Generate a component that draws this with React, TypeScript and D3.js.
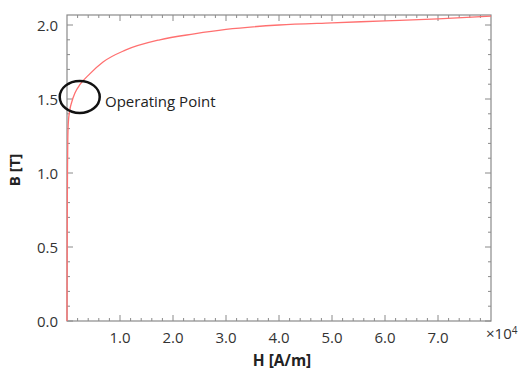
import React from "react";
import * as d3 from "d3";

const H_VALUES = [0, 30, 60, 100, 150, 250, 500, 900, 1500, 2500, 4300, 6800, 11000, 17500, 24000, 30000, 40000, 50000, 60000, 70000, 80000];
const B_VALUES = [0, 0.4, 0.8, 1.05, 1.22, 1.34, 1.42, 1.48, 1.54, 1.6, 1.67, 1.75, 1.83, 1.9, 1.94, 1.97, 2.0, 2.015, 2.028, 2.042, 2.06];
const X_MAJOR = [10000, 20000, 30000, 40000, 50000, 60000, 70000];
const X_LABELS = ["1.0", "2.0", "3.0", "4.0", "5.0", "6.0", "7.0"];
const Y_MAJOR = [0, 0.5, 1.0, 1.5, 2.0];
const Y_LABELS = ["0.0", "0.5", "1.0", "1.5", "2.0"];
const OP_POINT = { h: 2400, b: 1.514, label: "Operating Point" };

const W = 523, HGT = 372;
const L = 67, R = 491, T = 15, B = 321;

export default function App() {
  const x = d3.scaleLinear().domain([0, 80000]).range([L, R]);
  const y = d3.scaleLinear().domain([0, 2.0676]).range([B, T]);
  const data = H_VALUES.map((h, i) => [h, B_VALUES[i]] as [number, number]);
  const line = d3.line<[number, number]>().x(d => x(d[0])).y(d => y(d[1])).curve(d3.curveMonotoneX);
  const xMinor = d3.range(2000, 80000, 2000).filter(v => v % 10000 !== 0);
  const yMinor = d3.range(1, 21).map(v => v / 10).filter(v => Math.round(v * 10) % 5 !== 0);
  const axisCol = "#8a8a8a";
  const font = "'Open Sans', sans-serif";
  return (
    <svg width={W} height={HGT} style={{ position: "absolute", left: 0, top: 0 }}>
      <rect x={0} y={0} width={W} height={HGT} fill="#fff" />
      {xMinor.map(v => (
        <g key={"xm" + v} stroke={axisCol} strokeWidth={1}>
          <line x1={x(v)} x2={x(v)} y1={B} y2={B - 3} />
          <line x1={x(v)} x2={x(v)} y1={T} y2={T + 3} />
        </g>
      ))}
      {X_MAJOR.map(v => (
        <g key={"xM" + v} stroke={axisCol} strokeWidth={1}>
          <line x1={x(v)} x2={x(v)} y1={B} y2={B - 6} />
          <line x1={x(v)} x2={x(v)} y1={T} y2={T + 6} />
        </g>
      ))}
      {yMinor.map(v => (
        <g key={"ym" + v} stroke={axisCol} strokeWidth={1}>
          <line x1={L} x2={L + 3} y1={y(v)} y2={y(v)} />
          <line x1={R} x2={R - 3} y1={y(v)} y2={y(v)} />
        </g>
      ))}
      {Y_MAJOR.map(v => (
        <g key={"yM" + v} stroke={axisCol} strokeWidth={1}>
          <line x1={L} x2={L + 6} y1={y(v)} y2={y(v)} />
          <line x1={R} x2={R - 6} y1={y(v)} y2={y(v)} />
        </g>
      ))}
      <rect x={L} y={T} width={R - L} height={B - T} fill="none" stroke={axisCol} strokeWidth={1.2} />
      <path d={line(data) || ""} fill="none" stroke="#ff7070" strokeWidth={1.3} />
      {X_MAJOR.map((v, i) => (
        <text key={"xl" + v} x={x(v)} y={343} textAnchor="middle" fontFamily={font} fontSize={15} fill="#333">{X_LABELS[i]}</text>
      ))}
      {Y_MAJOR.map((v, i) => (
        <text key={"yl" + v} x={58} y={y(v) + 5.5} textAnchor="end" fontFamily={font} fontSize={15} fill="#333">{Y_LABELS[i]}</text>
      ))}
      <text x={282} y={366} textAnchor="middle" fontFamily={font} fontSize={15.5} fontWeight="bold" fill="#222">H [A/m]</text>
      <text transform={`translate(20,170) rotate(-90)`} textAnchor="middle" fontFamily={font} fontSize={15} fontWeight="bold" fill="#222">B [T]</text>
      <text x={486} y={339} fontFamily={font} fontSize={15} fill="#333">×10<tspan dy={-5} fontSize={10}>4</tspan></text>
      <ellipse cx={x(OP_POINT.h)} cy={y(OP_POINT.b)} rx={20} ry={16} fill="none" stroke="#111" strokeWidth={2.5} />
      <text x={105} y={107} fontFamily={font} fontSize={15} fill="#222">{OP_POINT.label}</text>
    </svg>
  );
}
